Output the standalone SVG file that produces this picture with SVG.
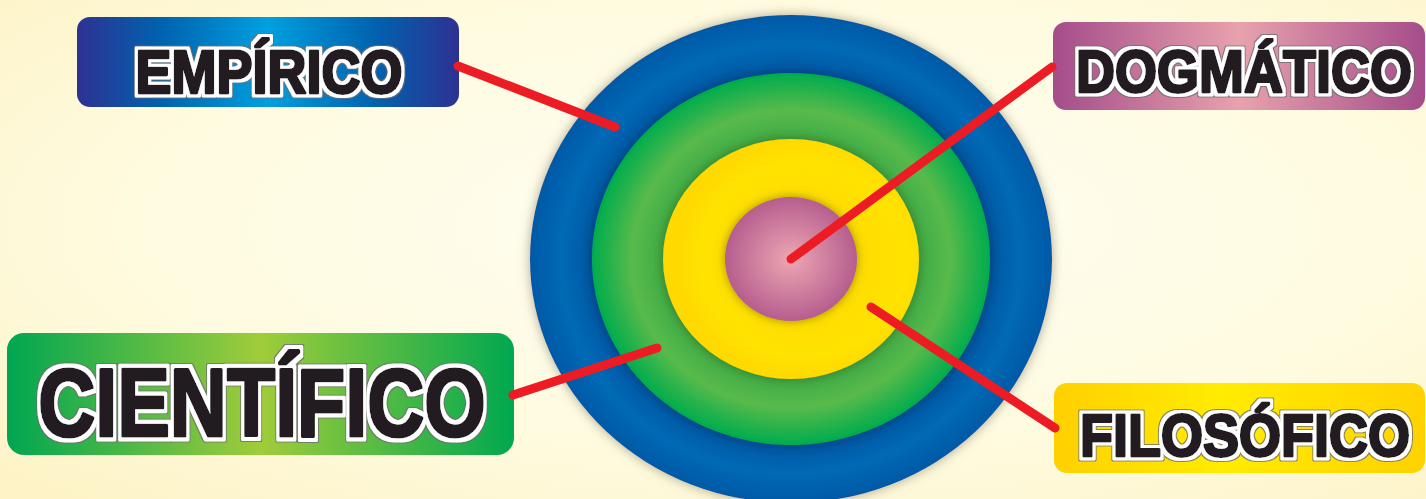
<svg xmlns="http://www.w3.org/2000/svg" width="1426" height="499" viewBox="0 0 1426 499">
  <defs>
    <radialGradient id="bg" cx="0.55" cy="0.45" r="0.75">
      <stop offset="0" stop-color="#FFFEF2"/>
      <stop offset="0.6" stop-color="#FEFBE0"/>
      <stop offset="1" stop-color="#FDF3C6"/>
    </radialGradient>
    <radialGradient id="gBlue" cx="0.5" cy="0.5" r="0.5">
      <stop offset="0.74" stop-color="#00549F"/>
      <stop offset="0.88" stop-color="#006AB6"/>
      <stop offset="1" stop-color="#0059A6"/>
    </radialGradient>
    <radialGradient id="gGreen" cx="0.5" cy="0.5" r="0.5">
      <stop offset="0.6" stop-color="#3AA848"/>
      <stop offset="0.8" stop-color="#58BA4B"/>
      <stop offset="1" stop-color="#00AC4E"/>
    </radialGradient>
    <radialGradient id="gYellow" cx="0.55" cy="0.5" r="0.5">
      <stop offset="0.5" stop-color="#FFDD00"/>
      <stop offset="0.8" stop-color="#FFE300"/>
      <stop offset="1" stop-color="#FFD900"/>
    </radialGradient>
    <radialGradient id="gPink" cx="0.5" cy="0.5" r="0.5">
      <stop offset="0" stop-color="#EDA7B3"/>
      <stop offset="1" stop-color="#B65E8E"/>
    </radialGradient>
    <linearGradient id="bEmp" x1="0" y1="0" x2="1" y2="0">
      <stop offset="0" stop-color="#2E3192"/>
      <stop offset="0.22" stop-color="#0062AF"/>
      <stop offset="0.5" stop-color="#00A0DF"/>
      <stop offset="0.78" stop-color="#0062AF"/>
      <stop offset="1" stop-color="#2E3192"/>
    </linearGradient>
    <linearGradient id="bDog" x1="0" y1="0" x2="1" y2="0">
      <stop offset="0" stop-color="#A54C8A"/>
      <stop offset="0.5" stop-color="#E8A2AD"/>
      <stop offset="1" stop-color="#A54C8A"/>
    </linearGradient>
    <linearGradient id="bCie" x1="0" y1="0" x2="1" y2="0">
      <stop offset="0" stop-color="#00A651"/>
      <stop offset="0.5" stop-color="#A0CC3A"/>
      <stop offset="1" stop-color="#00A84F"/>
    </linearGradient>
    <linearGradient id="bFil" x1="0" y1="0" x2="1" y2="0">
      <stop offset="0" stop-color="#FFD000"/>
      <stop offset="0.45" stop-color="#FFEC00"/>
      <stop offset="1" stop-color="#FFD200"/>
    </linearGradient>
    <filter id="shOuter" x="-10%" y="-10%" width="120%" height="120%">
      <feDropShadow dx="0" dy="0" stdDeviation="6" flood-color="#8A8468" flood-opacity="0.7"/>
    </filter>
    <filter id="shBlue" x="-10%" y="-10%" width="120%" height="120%">
      <feDropShadow dx="0" dy="0" stdDeviation="6" flood-color="#003366" flood-opacity="0.8"/>
    </filter>
    <filter id="shGreen" x="-10%" y="-10%" width="120%" height="120%">
      <feDropShadow dx="0" dy="0" stdDeviation="6" flood-color="#2E6B1E" flood-opacity="0.8"/>
    </filter>
    <filter id="shYellow" x="-15%" y="-15%" width="130%" height="130%">
      <feDropShadow dx="0" dy="0" stdDeviation="5" flood-color="#8A7A00" flood-opacity="0.8"/>
    </filter>
    <filter id="outline" x="-3%" y="-25%" width="106%" height="150%">
      <feMorphology in="SourceAlpha" operator="dilate" radius="4" result="d2"/>
      <feFlood flood-color="#6E6E6E" flood-opacity="0.8"/>
      <feComposite in2="d2" operator="in" result="grey"/>
      <feMorphology in="SourceAlpha" operator="dilate" radius="3.1" result="d1"/>
      <feFlood flood-color="#FFFFFF"/>
      <feComposite in2="d1" operator="in" result="white"/>
      <feMerge>
        <feMergeNode in="grey"/>
        <feMergeNode in="white"/>
        <feMergeNode in="SourceGraphic"/>
      </feMerge>
    </filter>
  </defs>
  <style>
    .lbl { font-family: "Liberation Sans", Arial, sans-serif; font-weight: bold; fill: #231F20; stroke: #231F20; stroke-width: 2.6; stroke-linejoin: round; text-anchor: middle; filter: url(#outline); }
    .conn { stroke: #ED1C24; stroke-width: 9; stroke-linecap: round; fill: none; }
  </style>

  <rect x="0" y="0" width="1426" height="499" fill="url(#bg)"/>

  <g id="target">
    <ellipse cx="791" cy="259" rx="261" ry="244" fill="url(#gBlue)" filter="url(#shOuter)"/>
    <ellipse cx="791" cy="259" rx="199" ry="186" fill="url(#gGreen)" filter="url(#shBlue)"/>
    <ellipse cx="791" cy="259" rx="128" ry="120" fill="url(#gYellow)" filter="url(#shGreen)"/>
    <ellipse cx="791" cy="259" rx="66" ry="62" fill="url(#gPink)" filter="url(#shYellow)"/>
  </g>

  <g id="node-empirico">
    <rect x="77" y="17" width="382" height="90" rx="13" fill="url(#bEmp)"/>
    <text class="lbl" transform="translate(269,93) scale(1,1.12)" x="0" y="0" font-size="54">EMPÍRICO</text>
  </g>

  <g id="node-dogmatico">
    <rect x="1053" y="22" width="372" height="88" rx="13" fill="url(#bDog)"/>
    <text class="lbl" transform="translate(1244,92) scale(1,1.11)" x="0" y="0" font-size="54">DOGMÁTICO</text>
  </g>

  <g id="node-cientifico">
    <rect x="7" y="333" width="507" height="122" rx="17" fill="url(#bCie)"/>
    <text class="lbl" transform="translate(262,436) scale(1,1.23)" x="0" y="0" font-size="79">CIENTÍFICO</text>
  </g>

  <g id="node-filosofico">
    <rect x="1054" y="383" width="371" height="90" rx="13" fill="url(#bFil)"/>
    <text class="lbl" transform="translate(1245,456) scale(1,1.11)" x="0" y="0" font-size="54">FILOSÓFICO</text>
  </g>

  <g id="connectors">
    <line class="conn" x1="458" y1="66" x2="615" y2="127"/>
    <line class="conn" x1="791" y1="259" x2="1052" y2="67"/>
    <line class="conn" x1="513" y1="395" x2="657" y2="348"/>
    <line class="conn" x1="871" y1="307" x2="1055" y2="428"/>
  </g>
</svg>
